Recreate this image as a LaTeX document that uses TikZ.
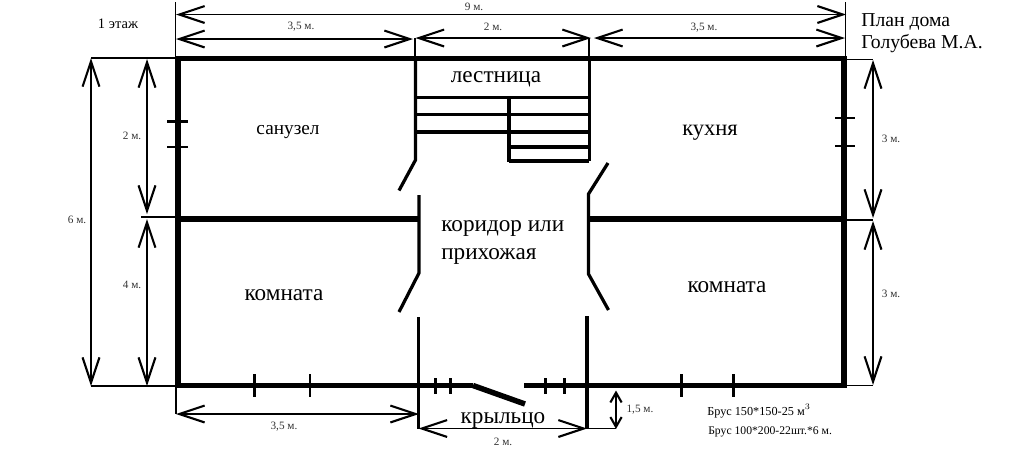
\documentclass[tikz,border=0pt]{standalone}
\usepackage{fontspec}
\setmainfont{Liberation Serif}
\usetikzlibrary{arrows.meta}
\tikzset{
    wall/.style={line width=3.9pt},
    thinwall/.style={line width=2.3pt},
    tread/.style={line width=2.2pt},
    tickmark/.style={line width=1.5pt},
    dimline/.style={line width=1.3pt, {Straight Barb[length=18pt,width=12pt,line width=1.5pt]}-{Straight Barb[length=18pt,width=12pt,line width=1.5pt]}},
    shortdim/.style={line width=1.3pt, {Straight Barb[length=7pt,width=8pt,line width=1.5pt]}-{Straight Barb[length=7pt,width=8pt,line width=1.5pt]}},
    extline/.style={line width=1.2pt},
    roomlabel/.style={font=\fontsize{16.5}{20}\selectfont},
    dimlabel/.style={font=\fontsize{8}{10}\selectfont, text=black!80},
    notelabel/.style={font=\fontsize{8.7}{10}\selectfont, anchor=west, inner sep=0pt}
}
\begin{document}
\begin{tikzpicture}[x=0.025cm, y=-0.025cm]
    \useasboundingbox (0,0) rectangle (1024,462);

    % Outer walls
    \draw[wall] (473,385.5) -- (178,385.5) -- (178,58.5) -- (844,58.5) -- (844,385.5) -- (524,385.5);
    \draw[wall] (473,385.5) -- (525,404);

    % Partitions
    \draw[wall] (178,219) -- (418,219);
    \draw[wall] (589,219) -- (844,219);

    % Corridor, left side
    \draw[thinwall] (415.5,58) -- (415.5,160) -- (399,190.5);
    \draw[thinwall] (419,195) -- (419,273) -- (399,312);
    \draw[thinwall] (418.5,317) -- (418.5,429);

    % Corridor, right side
    \draw[thinwall] (589.5,58) -- (589.5,161);
    \draw[thinwall] (608,163) -- (588.5,194) -- (588.5,274) -- (608.5,310);
    \draw[thinwall] (587,316) -- (587,429);

    % Stairs
    \foreach \y in {97.5, 114.5, 132} {
        \draw[tread] (416,\y) -- (589,\y);
    }
    \foreach \y in {147, 161} {
        \draw[tread] (509,\y) -- (589,\y);
    }
    \draw[thinwall] (509,97.5) -- (509,162);

    % Window marks
    \foreach \y in {121.5, 147} {
        \draw[tickmark] (167,\y) -- (188,\y);
    }
    \foreach \y in {118, 146} {
        \draw[tickmark] (835,\y) -- (855,\y);
    }
    \foreach \x in {254.5, 310, 681.5, 733.5} {
        \draw[tickmark] (\x,374) -- (\x,397);
    }
    \foreach \x in {435.5, 450.5, 545.5, 564.5} {
        \draw[tickmark] (\x,378) -- (\x,394);
    }

    % Extension lines
    \draw[extline] (175.5,2) -- (175.5,58);
    \draw[extline] (845.5,2) -- (845.5,58);
    \draw[extline] (415,38) -- (415,58);
    \draw[extline] (589,38) -- (589,58);
    \draw[extline] (91,58) -- (176,58);
    \draw[extline] (91,386) -- (176,386);
    \draw[extline] (141,217) -- (178,217);
    \draw[extline] (846,59.5) -- (873,59.5);
    \draw[extline] (846,220) -- (873,220);
    \draw[extline] (846,385.5) -- (873,385.5);
    \draw[extline] (176,386) -- (176,414);
    \draw[extline] (587,428.5) -- (616,428.5);

    % Dimensions
    \draw[dimline] (176,14.5) -- (846,14.5);
    \draw[dimline] (176,39) -- (413,39);
    \draw[dimline] (415.5,38) -- (591,38);
    \draw[dimline] (594,38) -- (845,38);
    \draw[dimline] (91,58) -- (91,386);
    \draw[dimline] (147,59) -- (147,214);
    \draw[dimline] (147,219) -- (147,386);
    \draw[dimline] (873,60) -- (873,218);
    \draw[dimline] (873,221) -- (873,385);
    \draw[dimline] (176,414) -- (419,414);
    \draw[dimline] (418.5,428.5) -- (587,428.5);
    \draw[shortdim] (616,390.5) -- (616,429);

    % Rooms
    \node[roomlabel] (stairs) at (496,79.5) {лестница};
    \node[roomlabel, font=\fontsize{13.7}{16}\selectfont] (bath) at (288,132.5) {санузел};
    \node[roomlabel, font=\fontsize{16}{20}\selectfont] (kitchen) at (710,133) {кухня};
    \node[roomlabel, anchor=west, inner sep=0pt] (hall) at (441,228) {коридор или};
    \node[roomlabel, anchor=west, inner sep=0pt] (hall2) at (441,256) {прихожая};
    \node[roomlabel] (roomleft) at (284,295) {комната};
    \node[roomlabel] (roomright) at (727,287) {комната};
    \node[roomlabel] (porch) at (503,420) {крыльцо};

    % Sizes
    \node[dimlabel] (topall) at (474,7) {9 м.};
    \node[dimlabel] (topleft) at (301,27) {3,5 м.};
    \node[dimlabel] (topmid) at (493,27) {2 м.};
    \node[dimlabel] (topright) at (704,28) {3,5 м.};
    \node[dimlabel] (leftall) at (77,220) {6 м.};
    \node[dimlabel] (leftup) at (132,136) {2 м.};
    \node[dimlabel] (leftdown) at (132,285) {4 м.};
    \node[dimlabel] (rightup) at (891,139) {3 м.};
    \node[dimlabel] (rightdown) at (891,294) {3 м.};
    \node[dimlabel] (bottomleft) at (284,427) {3,5 м.};
    \node[dimlabel] (bottommid) at (503,442) {2 м.};
    \node[dimlabel] (porchdepth) at (640,410) {1,5 м.};

    % Notes
    \node[font=\fontsize{10.3}{12}\selectfont] (floor) at (118,24) {1 этаж};
    \node[font=\fontsize{14}{16}\selectfont, anchor=west, inner sep=0pt] (title) at (861,22) {План дома};
    \node[font=\fontsize{14}{16}\selectfont, anchor=west, inner sep=0pt] (owner) at (861,44) {Голубева М.А.};
    \node[notelabel] (timber) at (707,411) {Брус 150*150-25 м$^{3}$};
    \node[notelabel, font=\fontsize{8.3}{10}\selectfont] (beam) at (708,432) {Брус 100*200-22шт.*6 м.};
\end{tikzpicture}
\end{document}
